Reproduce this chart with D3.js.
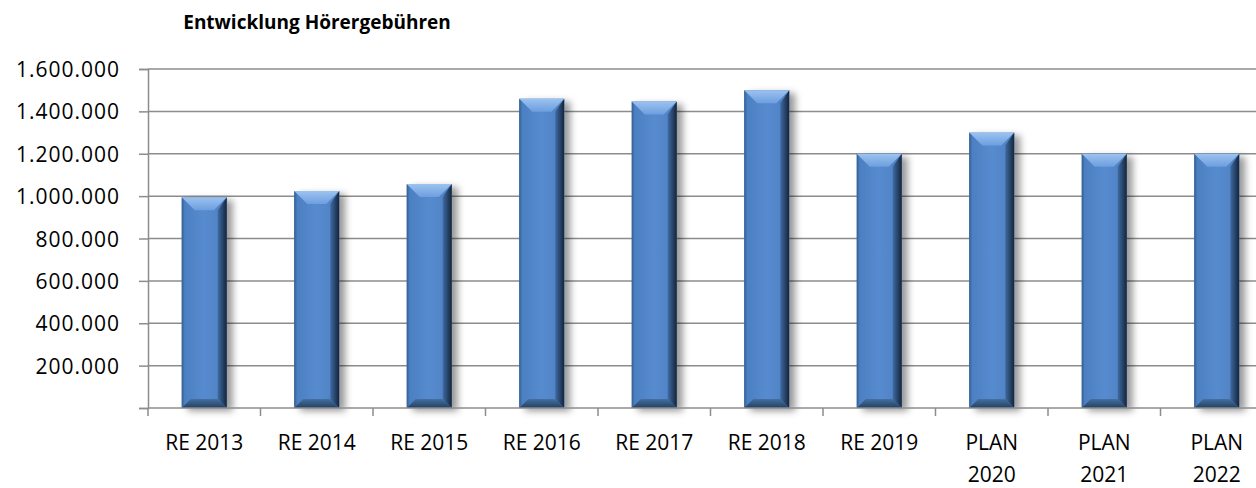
<!DOCTYPE html>
<html lang="de">
<head>
    <meta charset="UTF-8">
    <title>Entwicklung Hörergebühren</title>
    <script src="https://cdn.jsdelivr.net/npm/d3@7"></script>
    <style>
        body { margin: 0; background: #fff; }
        text { font-family: "Open Sans", "Liberation Sans", sans-serif; fill: #000; }
    </style>
</head>
<body>
<script>
    var width = 1256;
    var height = 488;

    // Daten
    var categories = ["RE 2013", "RE 2014", "RE 2015", "RE 2016", "RE 2017", "RE 2018", "RE 2019", "PLAN 2020", "PLAN 2021", "PLAN 2022"];
    var values = [995000, 1024000, 1057000, 1460000, 1447000, 1500000, 1200000, 1300000, 1200000, 1200000];
    var yTicks = [0, 200000, 400000, 600000, 800000, 1000000, 1200000, 1400000, 1600000];
    var title = "Entwicklung Hörergebühren";

    var de = d3.formatLocale({decimal: ",", thousands: ".", grouping: [3], currency: ["", " €"]});
    var fmt = de.format(",");

    var svg = d3.select("body").append("svg").attr("width", width).attr("height", height);

    var defs = svg.append("defs");
    var sh = defs.append("filter").attr("id", "shadow").attr("x", "-20%").attr("y", "-10%").attr("width", "170%").attr("height", "130%");
    sh.append("feDropShadow").attr("dx", 6).attr("dy", 3).attr("stdDeviation", 3.5)
        .attr("flood-color", "#000").attr("flood-opacity", 0.4);

    var gBody = defs.append("linearGradient").attr("id", "body").attr("x1", 0).attr("x2", 1).attr("y1", 0).attr("y2", 0);
    gBody.append("stop").attr("offset", "0").attr("stop-color", "#4a7ec0");
    gBody.append("stop").attr("offset", "0.5").attr("stop-color", "#568bcf");
    gBody.append("stop").attr("offset", "1").attr("stop-color", "#4d80c2");

    var gTop = defs.append("linearGradient").attr("id", "bevtop").attr("x1", 0).attr("x2", 0).attr("y1", 0).attr("y2", 1);
    gTop.append("stop").attr("offset", "0").attr("stop-color", "#9cc3f0");
    gTop.append("stop").attr("offset", "1").attr("stop-color", "#6d9edf");

    var gRight = defs.append("linearGradient").attr("id", "bevright").attr("x1", 0).attr("x2", 1).attr("y1", 0).attr("y2", 0);
    gRight.append("stop").attr("offset", "0").attr("stop-color", "#3f6ba3");
    gRight.append("stop").attr("offset", "1").attr("stop-color", "#14243a");

    var gLeft = defs.append("linearGradient").attr("id", "bevleft").attr("x1", 0).attr("x2", 1).attr("y1", 0).attr("y2", 0);
    gLeft.append("stop").attr("offset", "0").attr("stop-color", "#355d90");
    gLeft.append("stop").attr("offset", "1").attr("stop-color", "#4b7fc1");

    var gBot = defs.append("linearGradient").attr("id", "bevbot").attr("x1", 0).attr("x2", 0).attr("y1", 0).attr("y2", 1);
    gBot.append("stop").attr("offset", "0").attr("stop-color", "#44709f");
    gBot.append("stop").attr("offset", "1").attr("stop-color", "#243f62");

    // Skalen
    var x0 = 148, x1 = 1273, yTop = 69, yBase = 408;
    var xScale = d3.scaleBand().domain(categories).range([x0, x1]).paddingInner(0.6).paddingOuter(0.3);
    var step = xScale.step();
    var yScale = d3.scaleLinear().domain([0, 1600000]).range([yBase, yTop]);

    // Gitternetz
    svg.append("g").selectAll("line").data(yTicks.slice(1)).enter().append("line")
        .attr("x1", x0).attr("x2", width)
        .attr("y1", function(d) { return yScale(d); })
        .attr("y2", function(d) { return yScale(d); })
        .attr("stroke", "#8c8c8c").attr("stroke-width", 1.5);

    // y-Achse
    var yAxis = d3.axisLeft(yScale).tickValues(yTicks).tickSize(9).tickPadding(19)
        .tickFormat(function(d) { return d === 0 ? "" : fmt(d); });
    var gy = svg.append("g").attr("transform", "translate(" + x0 + ",0)").call(yAxis);
    gy.select(".domain").attr("stroke", "#8c8c8c").attr("stroke-width", 1.5);
    gy.selectAll(".tick line").attr("stroke", "#8c8c8c").attr("stroke-width", 1.5);
    gy.selectAll(".tick text").attr("font-size", "21px").attr("font-family", "Open Sans")
        .attr("letter-spacing", "1px").attr("dy", "0.36em");

    // Balken
    var b = 13;
    var bars = svg.append("g").selectAll("g").data(values).enter().append("g")
        .attr("transform", function(d, i) { return "translate(" + xScale(categories[i]) + ",0)"; });
    var w = xScale.bandwidth();

    bars.append("rect").attr("x", 0).attr("width", w)
        .attr("y", function(d) { return yScale(d); })
        .attr("height", function(d) { return yBase - yScale(d); })
        .attr("fill", "url(#body)").attr("filter", "url(#shadow)");
    bars.append("path").attr("fill", "url(#bevleft)").attr("d", function(d) {
        var t = yScale(d);
        return "M0," + t + "L" + 3 + "," + (t + 3) + "L" + 3 + "," + (yBase - 3) + "L0," + yBase + "Z";
    });
    bars.append("path").attr("fill", "url(#bevright)").attr("d", function(d) {
        var t = yScale(d);
        return "M" + w + "," + t + "L" + (w - 9) + "," + (t + b) + "L" + (w - 9) + "," + (yBase - 9) + "L" + w + "," + yBase + "Z";
    });
    bars.append("path").attr("fill", "url(#bevbot)").attr("d", function() {
        return "M0," + yBase + "L" + 9 + "," + (yBase - 9) + "L" + (w - 9) + "," + (yBase - 9) + "L" + w + "," + yBase + "Z";
    });
    bars.append("path").attr("fill", "url(#bevtop)").attr("d", function(d) {
        var t = yScale(d);
        return "M0," + t + "L" + w + "," + t + "L" + (w - b) + "," + (t + b) + "L" + b + "," + (t + b) + "Z";
    });

    // x-Achse
    svg.append("line").attr("x1", x0).attr("x2", width).attr("y1", yBase).attr("y2", yBase)
        .attr("stroke", "#8c8c8c").attr("stroke-width", 1.5);
    svg.append("g").selectAll("line").data(d3.range(categories.length + 1)).enter().append("line")
        .attr("x1", function(i) { return x0 + i * step; })
        .attr("x2", function(i) { return x0 + i * step; })
        .attr("y1", yBase).attr("y2", yBase + 8)
        .attr("stroke", "#8c8c8c").attr("stroke-width", 1.5);

    var labels = svg.append("g").selectAll("text").data(categories).enter().append("text")
        .attr("text-anchor", "middle").attr("font-size", "21px")
        .attr("x", function(d) { return xScale(d) + w / 2; })
        .attr("y", 450);
    labels.each(function(d) {
        var lines = d.length > 7 ? d.split(" ") : [d];
        var t = d3.select(this);
        lines.forEach(function(l, k) {
            t.append("tspan").attr("x", t.attr("x")).attr("dy", k === 0 ? 0 : 32).text(l);
        });
    });

    // Titel
    svg.append("text").attr("x", 317).attr("y", 29).attr("text-anchor", "middle")
        .attr("font-size", "19px").attr("font-weight", "bold").text(title);
</script>
</body>
</html>
